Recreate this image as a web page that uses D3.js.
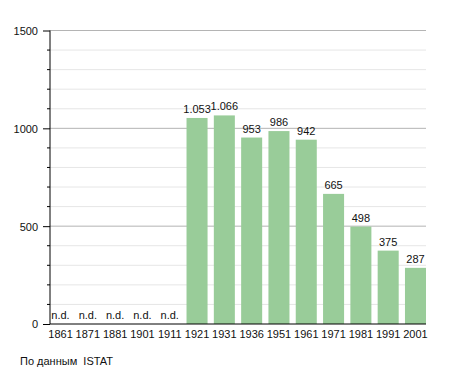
<!DOCTYPE html>
<html>
<head>
<meta charset="utf-8">
<script src="https://cdn.jsdelivr.net/npm/d3@7"></script>
<style>
  body { margin: 0; background: #fff; }
  text { font-family: "Liberation Sans", Arial, sans-serif; fill: #111; white-space: pre; }
</style>
</head>
<body>
<div id="chart"></div>
<script>
// data
const years = ["1861", "1871", "1881", "1901", "1911", "1921", "1931", "1936", "1951", "1961", "1971", "1981", "1991", "2001"];
const population = [null, null, null, null, null, 1053, 1066, 953, 986, 942, 665, 498, 375, 287];
const yTicks = [0, 500, 1000, 1500];
const sourceNote = "По данным  ISTAT";

const width = 455;
const height = 373;
const plotLeft = 50, plotRight = 426, plotTop = 30.5, plotBottom = 324;

const svg = d3.select("#chart")
  .append("svg")
  .attr("width", width)
  .attr("height", height);

const x = d3.scaleBand()
  .domain(years)
  .range([plotLeft, plotRight])
  .paddingInner(0.23)
  .paddingOuter(0)
  .align(0);

const y = d3.scaleLinear().domain([0, 1500]).range([plotBottom, plotTop]);

// grid
const minor = d3.range(100, 1501, 100).filter(v => v % 500 !== 0);
svg.append("g").selectAll("line").data(minor).enter().append("line")
  .attr("x1", plotLeft).attr("x2", plotRight)
  .attr("y1", d => y(d)).attr("y2", d => y(d))
  .attr("stroke", "#e6e6e6").attr("stroke-width", 1);
svg.append("g").selectAll("line").data(yTicks.filter(v => v > 0)).enter().append("line")
  .attr("x1", plotLeft).attr("x2", plotRight)
  .attr("y1", d => y(d)).attr("y2", d => y(d))
  .attr("stroke", "#b4b4b4").attr("stroke-width", 1);

// minor ticks
svg.append("g").selectAll("line").data(minor).enter().append("line")
  .attr("x1", plotLeft - 3).attr("x2", plotLeft)
  .attr("y1", d => y(d)).attr("y2", d => y(d))
  .attr("stroke", "#000");

// bars
svg.append("g").selectAll("rect")
  .data(years.map((yr, i) => ({ yr, v: population[i] })).filter(d => d.v !== null))
  .enter().append("rect")
  .attr("x", d => x(d.yr))
  .attr("width", x.bandwidth())
  .attr("y", d => y(d.v))
  .attr("height", d => y(0) - y(d.v))
  .attr("fill", "#99cc99");

// value labels
const fmt = d3.formatLocale({ decimal: ",", thousands: ".", grouping: [3], currency: ["", ""] }).format(",d");
svg.append("g").selectAll("text")
  .data(years.map((yr, i) => ({ yr, v: population[i] })))
  .enter().append("text")
  .attr("x", d => x(d.yr) + x.bandwidth() / 2)
  .attr("y", d => d.v === null ? plotBottom - 5 : y(d.v) - 5)
  .attr("text-anchor", "middle")
  .attr("font-size", 11)
  .text(d => d.v === null ? "n.d." : fmt(d.v));

// axes
const yAxis = d3.axisLeft(y).tickValues(yTicks).tickFormat(d3.format("d")).tickSize(7).tickPadding(5);
svg.append("g")
  .attr("transform", "translate(" + plotLeft + ",0)")
  .call(yAxis)
  .call(g => g.select(".domain").attr("d", "M0," + plotTop + "V" + plotBottom))
  .call(g => g.selectAll("text").attr("font-size", 11).attr("font-family", null).attr("dy", "0.35em"));

const xAxis = d3.axisBottom(x).tickSize(0).tickPadding(6);
svg.append("g")
  .attr("transform", "translate(0," + plotBottom + ")")
  .call(xAxis)
  .call(g => g.select(".domain").attr("d", "M" + plotLeft + ",0H" + plotRight))
  .call(g => g.selectAll("text").attr("font-size", 11).attr("font-family", null));

svg.selectAll(".domain").attr("stroke", "#000");

svg.append("text")
  .attr("x", 20)
  .attr("y", 365)
  .attr("font-size", 11)
  .text(sourceNote);
</script>
</body>
</html>
